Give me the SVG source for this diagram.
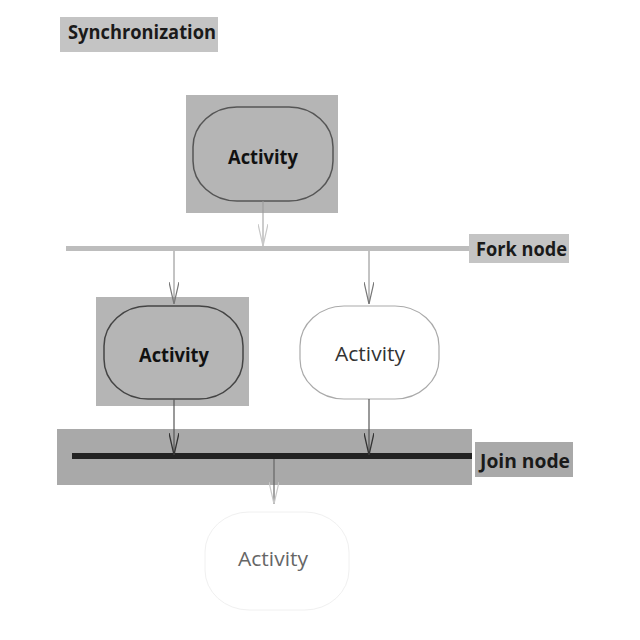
<svg xmlns="http://www.w3.org/2000/svg" width="640" height="640" viewBox="0 0 640 640">
<style>
.lbl{font-family:"Open Sans","Noto Sans","DejaVu Sans",sans-serif;font-weight:bold;fill:#1a1a1a;font-size:20px}
.act{font-family:"Open Sans","Noto Sans","DejaVu Sans",sans-serif;font-size:20px;text-anchor:middle;dominant-baseline:central}
</style>
<defs>
<marker id="arrDark" viewBox="0 0 22 10" refX="22" refY="5" markerWidth="22" markerHeight="10" markerUnits="userSpaceOnUse" orient="auto"><path d="M0,0 L22,5 L0,10" fill="none" stroke="#333" stroke-width="1.3"/></marker>
<marker id="arrMid" viewBox="0 0 22 10" refX="22" refY="5" markerWidth="22" markerHeight="10" markerUnits="userSpaceOnUse" orient="auto"><path d="M0,0 L22,5 L0,10" fill="none" stroke="#777" stroke-width="1.2"/></marker>
<marker id="arrLight" viewBox="0 0 22 10" refX="22" refY="5" markerWidth="22" markerHeight="10" markerUnits="userSpaceOnUse" orient="auto"><path d="M0,0 L22,5 L0,10" fill="none" stroke="#c8c8c8" stroke-width="1.2"/></marker>
</defs>
<rect width="640" height="640" fill="#fff"/>
<g id="title">
<rect x="60" y="17" width="158" height="35" fill="#c4c4c4"/>
<text class="lbl" x="68" y="39" textLength="148" lengthAdjust="spacingAndGlyphs">Synchronization</text>
</g>
<g id="activity-top">
<rect x="186" y="95" width="152" height="118" fill="#b5b5b5"/>
<rect x="193" y="107" width="140" height="94" rx="44" ry="40" fill="#b5b5b5" stroke="#555" stroke-width="1.5"/>
<text class="act" x="263" y="156" font-weight="bold" fill="#111" textLength="70" lengthAdjust="spacingAndGlyphs">Activity</text>
</g>
<g id="fork-node">
<rect x="66" y="246" width="404" height="5" fill="#bdbdbd"/>
<rect x="469" y="234" width="100" height="29" fill="#c4c4c4"/>
<text class="lbl" x="476" y="256" textLength="91" lengthAdjust="spacingAndGlyphs">Fork node</text>
</g>
<g id="activity-left">
<rect x="96" y="297" width="153" height="109" fill="#b5b5b5"/>
<rect x="104" y="306" width="139" height="93" rx="44" ry="40" fill="#b5b5b5" stroke="#444" stroke-width="1.5"/>
<text class="act" x="174" y="354" font-weight="bold" fill="#111" textLength="70" lengthAdjust="spacingAndGlyphs">Activity</text>
</g>
<g id="activity-right">
<rect x="300" y="306" width="139" height="93" rx="44" ry="40" fill="#fff" stroke="#aaa" stroke-width="1.2"/>
<text class="act" x="370" y="353" fill="#333" textLength="70" lengthAdjust="spacingAndGlyphs">Activity</text>
</g>
<g id="join-node">
<rect x="57" y="429" width="415" height="56" fill="#a9a9a9"/>
<rect x="72" y="453" width="400" height="6" fill="#222"/>
<rect x="475" y="442" width="98" height="35" fill="#a9a9a9"/>
<text class="lbl" x="480" y="468" font-size="22" textLength="90" lengthAdjust="spacingAndGlyphs">Join node</text>
</g>
<g id="activity-bottom">
<rect x="205" y="512" width="144" height="98" rx="44" ry="40" fill="#fff" stroke="#f0f0f0" stroke-width="1"/>
<text class="act" x="273" y="558" fill="#666" textLength="70" lengthAdjust="spacingAndGlyphs">Activity</text>
</g>
<g id="connectors" fill="none">
<line x1="263" y1="201" x2="263" y2="246" stroke="#999" stroke-width="1" marker-end="url(#arrLight)"/>
<line x1="174" y1="251" x2="174" y2="304" stroke="#888" stroke-width="1" marker-end="url(#arrMid)"/>
<line x1="369" y1="251" x2="369" y2="304" stroke="#888" stroke-width="1" marker-end="url(#arrMid)"/>
<line x1="174" y1="399" x2="174" y2="455" stroke="#555" stroke-width="1.2" marker-end="url(#arrDark)"/>
<line x1="369" y1="399" x2="369" y2="455" stroke="#555" stroke-width="1.2" marker-end="url(#arrDark)"/>
<line x1="274" y1="459" x2="274" y2="504" stroke="#666" stroke-width="1.2" marker-end="url(#arrLight)"/>
</g>
</svg>
